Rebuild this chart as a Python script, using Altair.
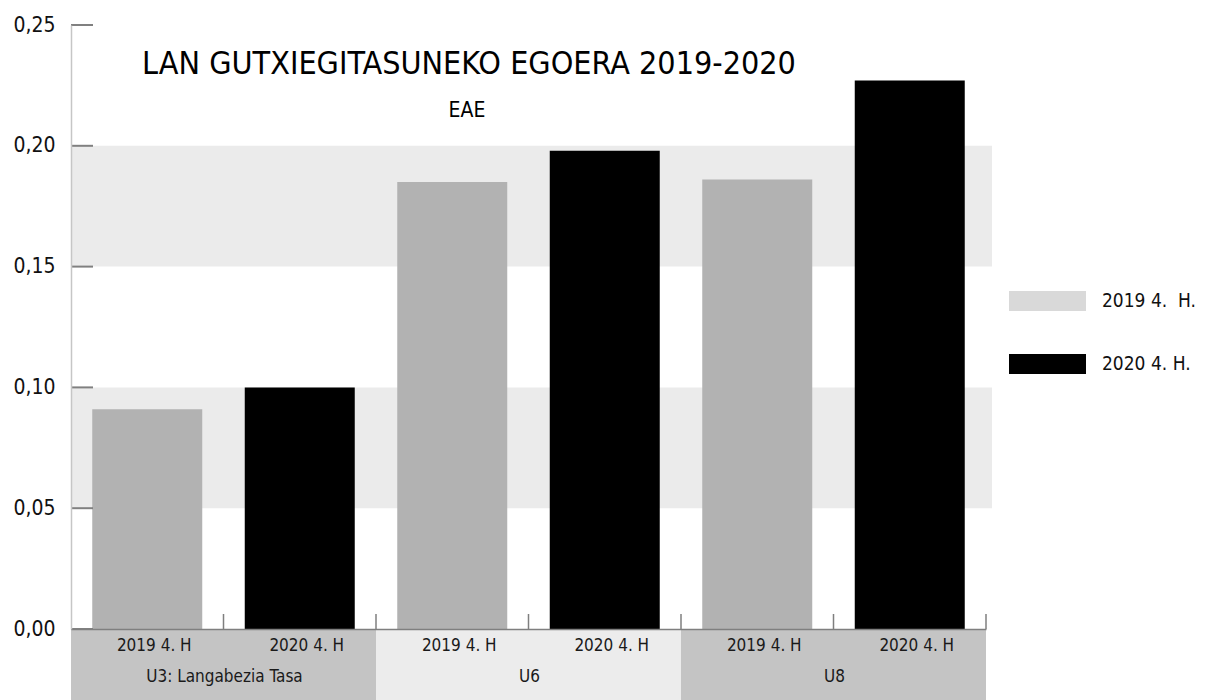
import altair as alt
import pandas as pd

FONT = "DejaVu Sans Condensed, Liberation Sans Narrow, sans-serif"

# ---- data ----
groups = ["U3: Langabezia Tasa", "U6", "U8"]
periods = ["2019 4. H", "2020 4. H"]
series = ["2019", "2020"]
values_2019 = [0.091, 0.185, 0.186]
values_2020 = [0.100, 0.198, 0.227]
group_fill = ["#c4c4c4", "#ececec", "#c4c4c4"]
y_ticks = [0.0, 0.05, 0.10, 0.15, 0.20, 0.25]
band_lo = [0.05, 0.15]
band_hi = [0.10, 0.20]
legend_labels = ["2019 4.\u00a0 H.", "2020 4. H."]
legend_colors = ["#d9d9d9", "#000000"]
bar_colors = ["#b2b2b2", "#000000"]
title_text = "LAN GUTXIEGITASUNEKO EGOERA 2019-2020"
subtitle_text = "EAE"

rows = []
for gi, g in enumerate(groups):
    for pi, (p, s, vals) in enumerate(zip(periods, series, [values_2019, values_2020])):
        rows.append(dict(idx=gi * 2 + pi, group=g, period=p, series=s, value=vals[gi]))
bars_df = pd.DataFrame(rows)
groups_df = pd.DataFrame(dict(gi=list(range(len(groups))), group=groups, fill=group_fill))
bands_df = pd.DataFrame(dict(lo=band_lo, hi=band_hi))
ytick_df = pd.DataFrame(dict(v=y_ticks))

W, H = 915, 604
xscale = alt.Scale(domain=[0, 6], nice=False, zero=False, padding=0)
yscale = alt.Scale(domain=[0, 0.25], nice=False, padding=0)

yaxis = alt.Axis(values=y_ticks, labelExpr="replace(format(datum.value, '.2f'), '.', ',')",
                 ticks=False, tickSize=0, domainColor="#c6c6c6", domainWidth=1.5, grid=False,
                 title=None, labelFont=FONT, labelFontSize=21, labelColor="#111111",
                 labelPadding=16, zindex=1)
xaxis = alt.Axis(labels=False, ticks=False, tickSize=0, domainColor="#7f7f7f", domainWidth=1.5,
                 grid=False, title=None, zindex=1)

bands = alt.Chart(bands_df).mark_rect(color="#ebebeb").encode(
    x=alt.value(0), x2=alt.value(W + 6),
    y=alt.Y("lo:Q", scale=yscale, axis=yaxis), y2="hi:Q")

ytick_rules = alt.Chart(ytick_df).mark_rule(color="#808080", strokeWidth=2).encode(
    y=alt.Y("v:Q", scale=yscale), x=alt.value(0), x2=alt.value(22))

bars = alt.Chart(bars_df).transform_calculate(xc="datum.idx + 0.5").mark_bar(size=110).encode(
    x=alt.X("xc:Q", scale=xscale, axis=xaxis),
    y=alt.Y("value:Q", scale=yscale),
    color=alt.Color("series:N", scale=alt.Scale(domain=series, range=bar_colors), legend=None))

xtick_rules = alt.Chart(bars_df).transform_calculate(xb="datum.idx + 1").mark_rule(
    color="#7f7f7f", strokeWidth=1.5).encode(
    x=alt.X("xb:Q", scale=xscale), y=alt.value(H), y2=alt.value(H - 15))

group_boxes = alt.Chart(groups_df).transform_calculate(
    x0="datum.gi * 2", x1="datum.gi * 2 + 2").mark_rect().encode(
    x=alt.X("x0:Q", scale=xscale), x2="x1:Q",
    y=alt.value(H), y2=alt.value(H + 71),
    color=alt.Color("fill:N", scale=None))

group_text = alt.Chart(groups_df).transform_calculate(xm="datum.gi * 2 + 1").mark_text(
    font=FONT, fontSize=17, color="#1a1a1a", baseline="middle", dx=1).encode(
    x=alt.X("xm:Q", scale=xscale), y=alt.value(H + 48), text="group:N")

period_text = alt.Chart(bars_df).transform_calculate(xc="datum.idx + 0.5").mark_text(
    font=FONT, fontSize=17, color="#1a1a1a", baseline="middle", dx=7).encode(
    x=alt.X("xc:Q", scale=xscale), y=alt.value(H + 17), text="period:N")

title = alt.Chart(alt.Data(values=[{"t": title_text}])).mark_text(
    font=FONT, fontSize=32, color="#000000", baseline="alphabetic", align="center").encode(
    x=alt.value(398), y=alt.value(49), text="t:N")

subtitle = alt.Chart(alt.Data(values=[{"t": subtitle_text}])).mark_text(
    font=FONT, fontSize=21, color="#000000", baseline="alphabetic", align="center").encode(
    x=alt.value(396), y=alt.value(92), text="t:N")

legend_layers = []
for i, (lab, col) in enumerate(zip(legend_labels, legend_colors)):
    top = 266 + i * 63
    d = alt.Data(values=[{"label": lab}])
    legend_layers.append(alt.Chart(d).mark_rect(color=col).encode(
        x=alt.value(938), x2=alt.value(1015), y=alt.value(top), y2=alt.value(top + 20)))
    legend_layers.append(alt.Chart(d).mark_text(
        font=FONT, fontSize=19, color="#111111", align="left", baseline="middle").encode(
        x=alt.value(1031), y=alt.value(top + 10), text="label:N"))

chart = alt.layer(
    bands, group_boxes, bars, ytick_rules, xtick_rules, group_text, period_text,
    title, subtitle, *legend_layers
).properties(
    width=W, height=H,
    background="white",
    autosize=alt.AutoSizeParams(type="none"),
    padding={"left": 63, "top": 17, "right": 215, "bottom": 71},
).configure_view(stroke=None)

chart.save("out.html", embed_options={"renderer": "svg", "actions": False})
